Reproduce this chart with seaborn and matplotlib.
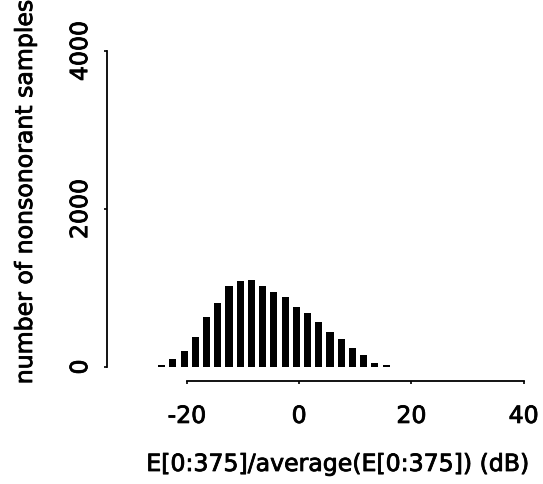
import matplotlib
matplotlib.use("Agg")
import matplotlib.pyplot as plt
import matplotlib.patheffects as pe
import seaborn as sns
import pandas as pd

# Histogram of frame energy relative to the utterance average (2 dB bins)
bin_centers = [-24.5, -22.5, -20.5, -18.5, -16.5, -14.5, -12.5, -10.5, -8.5, -6.5,
               -4.5, -2.5, -0.5, 1.5, 3.5, 5.5, 7.5, 9.5, 11.5, 13.5, 15.5]
sample_counts = [25, 100, 205, 380, 630, 810, 1020, 1085, 1105, 1020,
                 950, 880, 755, 685, 570, 445, 357, 245, 147, 55, 20]
x_ticks = [-20, 0, 20, 40]
y_ticks = [0, 2000, 4000]
x_label = "E[0:375]/average(E[0:375]) (dB)"
y_label = "number of nonsonorant samples"

sns.set_theme(style="ticks")
plt.rcParams["font.family"] = ["DejaVu Sans"]

FS = 17
# slightly heavier glyph outlines for all text
heavy = [pe.withStroke(linewidth=0.6, foreground="black")]

fig = plt.figure(figsize=(5.43, 4.85), dpi=100)
ax = fig.add_axes([0.197, 0.2124, 0.788, 0.705])

df = pd.DataFrame({"db": bin_centers, "count": sample_counts})
sns.barplot(data=df, x="db", y="count", native_scale=True, width=0.63,
            color="black", saturation=1, errorbar=None, linewidth=0, ax=ax)

ax.set_xlim(-34.24, 42)
ax.set_ylim(-177, 4152)

sns.despine(ax=ax)
ax.spines["left"].set_bounds(0, 4000)
ax.spines["bottom"].set_bounds(-20, 40)
for side in ("left", "bottom"):
    ax.spines[side].set_linewidth(1.3)
    ax.spines[side].set_color("black")

ax.set_xticks(x_ticks)
ax.set_xticklabels([str(v) for v in x_ticks])
ax.set_yticks(y_ticks)
ax.set_yticklabels([str(v) for v in y_ticks], rotation=90, va="center")
ax.tick_params(axis="both", length=2.5, width=1.2, colors="black",
               labelsize=FS)
ax.tick_params(axis="x", pad=14)
ax.tick_params(axis="y", pad=8.2)

ax.set_xlabel(x_label, fontsize=FS, color="black")
ax.set_ylabel(y_label, fontsize=FS, color="black")
ax.xaxis.label.set_va("center")
ax.yaxis.label.set_va("center")
ax.xaxis.set_label_coords(0.5386, -0.2427)
ax.yaxis.set_label_coords(-0.1916, 0.553)

for t in ax.get_xticklabels() + ax.get_yticklabels() + [ax.xaxis.label, ax.yaxis.label]:
    t.set_path_effects(heavy)

fig.savefig("out.png", dpi=100, facecolor="white")
